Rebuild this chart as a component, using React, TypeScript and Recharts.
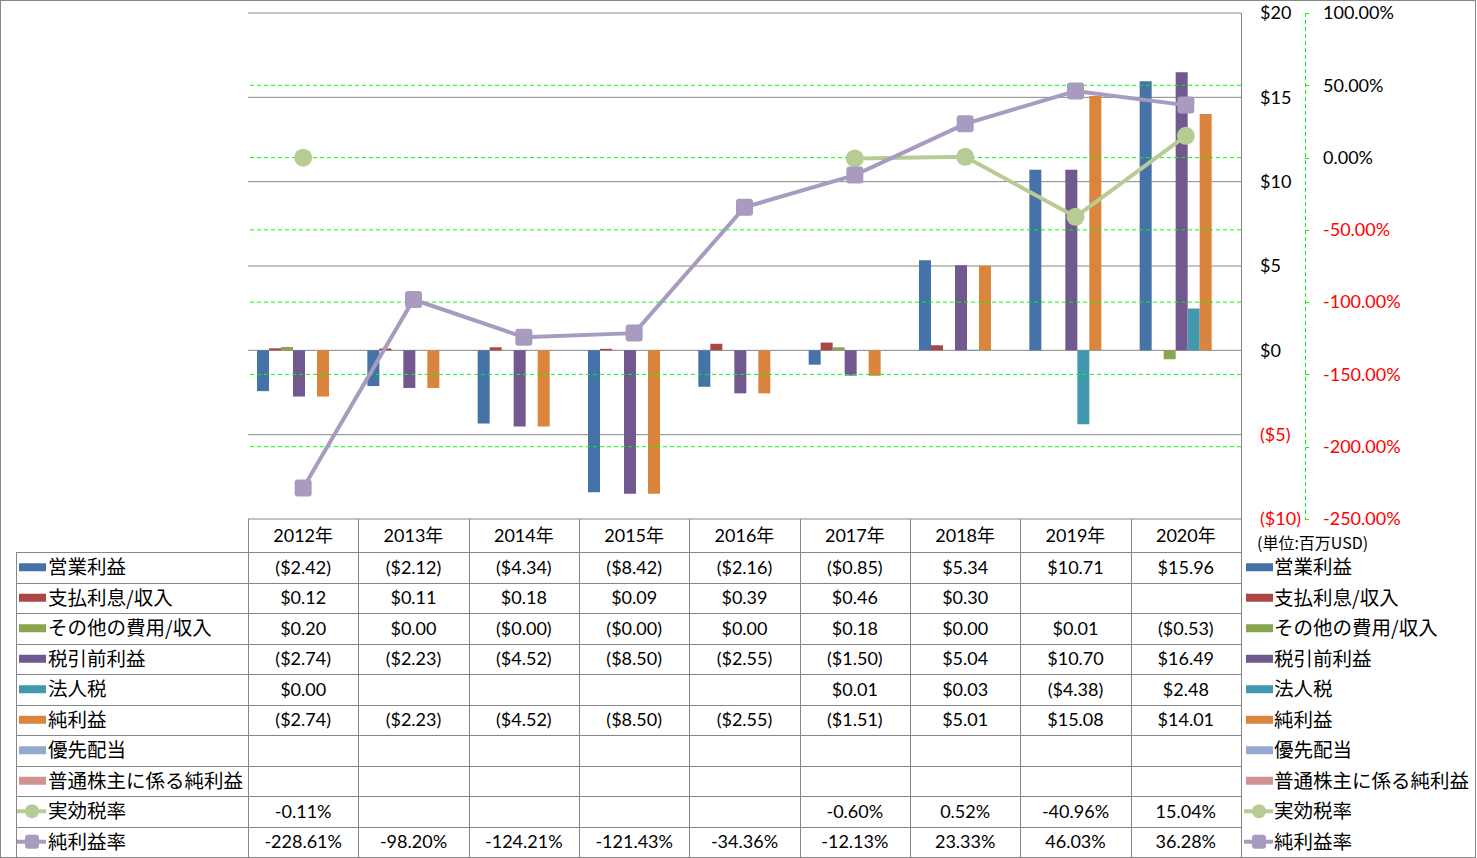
import { ComposedChart, Bar, Line, XAxis, YAxis, CartesianGrid, ReferenceLine } from 'recharts'

// categories and series values (USD in millions, rates in %)
const years = ['2012年', '2013年', '2014年', '2015年', '2016年', '2017年', '2018年', '2019年', '2020年']
const operatingIncome = [-2.42, -2.12, -4.34, -8.42, -2.16, -0.85, 5.34, 10.71, 15.96]
const interest = [0.12, 0.11, 0.18, 0.09, 0.39, 0.46, 0.3, null, null]
const otherExpense = [0.2, 0.0, -0.001, -0.001, 0.0, 0.18, 0.0, 0.01, -0.53]
const pretaxIncome = [-2.74, -2.23, -4.52, -8.5, -2.55, -1.5, 5.04, 10.7, 16.49]
const incomeTax = [0.0, null, null, null, null, 0.01, 0.03, -4.38, 2.48]
const netIncome = [-2.74, -2.23, -4.52, -8.5, -2.55, -1.51, 5.01, 15.08, 14.01]
const preferredDiv = [null, null, null, null, null, null, null, null, null]
const commonNetIncome = [null, null, null, null, null, null, null, null, null]
const effectiveTaxRate = [-0.11, null, null, null, null, -0.6, 0.52, -40.96, 15.04]
const netMargin = [-228.61, -98.2, -124.21, -121.43, -34.36, -12.13, 23.33, 46.03, 36.28]

const usdTicks = [-10, -5, 0, 5, 10, 15, 20]
const pctTicks = [-250, -200, -150, -100, -50, 0, 50, 100]

const barSeries = [
  { key: 'op', name: '営業利益', color: '#4572A7', values: operatingIncome },
  { key: 'int', name: '支払利息/収入', color: '#AA4643', values: interest },
  { key: 'oth', name: 'その他の費用/収入', color: '#89A54E', values: otherExpense },
  { key: 'pre', name: '税引前利益', color: '#71588F', values: pretaxIncome },
  { key: 'tax', name: '法人税', color: '#4198AF', values: incomeTax },
  { key: 'net', name: '純利益', color: '#DB843D', values: netIncome },
  { key: 'pref', name: '優先配当', color: '#93A9CF', values: preferredDiv },
  { key: 'com', name: '普通株主に係る純利益', color: '#D19392', values: commonNetIncome },
]
const lineSeries = [
  { key: 'etr', name: '実効税率', color: '#B7CC94', values: effectiveTaxRate, shape: 'circle' },
  { key: 'nm', name: '純利益率', color: '#A89BBF', values: netMargin, shape: 'square' },
]

const data = years.map((year, i) => {
  const row: Record<string, any> = { year }
  barSeries.forEach((s) => (row[s.key] = s.values[i]))
  lineSeries.forEach((s) => (row[s.key] = s.values[i]))
  return row
})

// layout
const W = 1477
const H = 858
const PLOT_L = 248
const PLOT_R = 1241
const PLOT_T = 13
const PLOT_B = 519
const PCT_AXIS_X = 1305
const TABLE_TOP = 552
const ROW_H = 30.5
const LABEL_L = 16
const COL_W = (PLOT_R - PLOT_L) / years.length
const GRID = '#868686'
const NUM_FONT = "Lato, 'Noto Sans CJK JP', sans-serif"
const JP_FONT = "'Noto Sans CJK JP', sans-serif"

const fmtUsd = (v: number | null) => (v == null ? '' : v < 0 ? `($${Math.abs(v).toFixed(2)})` : `$${v.toFixed(2)}`)
const fmtPct = (v: number | null) => (v == null ? '' : `${v.toFixed(2)}%`)

function UsdTick({ y, payload }: any) {
  const v = payload.value
  return (
    <text x={PLOT_R + 19} y={y} dy="0.35em" textAnchor="start" fontSize={18} fontFamily={NUM_FONT} fill={v < 0 ? '#FF0000' : '#000'}>
      {v < 0 ? `($${-v})` : `$${v}`}
    </text>
  )
}

function PctTick({ y, payload }: any) {
  const v = payload.value
  return (
    <g>
      <line x1={PCT_AXIS_X} x2={PCT_AXIS_X + 4} y1={Math.round(y) + 0.5} y2={Math.round(y) + 0.5} stroke="#00FF00" />
      <text x={PCT_AXIS_X + 18} y={y} dy="0.35em" textAnchor="start" fontSize={18} fontFamily={NUM_FONT} fill={v < 0 ? '#FF0000' : '#000'}>
        {`${v.toFixed(2)}%`}
      </text>
    </g>
  )
}

function CircleDot({ cx, cy, value, index }: any) {
  if (value == null || cx == null || cy == null) return <g key={index} />
  return <circle key={index} cx={cx} cy={cy} r={9} fill="#B7CC94" />
}

function SquareDot({ cx, cy, value, index }: any) {
  if (value == null || cx == null || cy == null) return <g key={index} />
  return <rect key={index} x={cx - 8.5} y={cy - 8.5} width={17} height={17} rx={3} fill="#A89BBF" />
}

function Marker({ x, cy, s }: { x: number; cy: number; s: any }) {
  if (s.shape) {
    return (
      <g>
        <line x1={x - 2} x2={x + 27} y1={cy} y2={cy} stroke={s.color} strokeWidth={4} />
        {s.shape === 'circle' ? (
          <circle cx={x + 13} cy={cy} r={7} fill={s.color} />
        ) : (
          <rect x={x + 6} y={cy - 7} width={14} height={14} rx={3} fill={s.color} />
        )}
      </g>
    )
  }
  return <rect x={x} y={cy - 4} width={27} height={8} fill={s.color} />
}

function DataTable() {
  const rows = [
    ...barSeries.map((s) => ({ s, cells: s.values.map(fmtUsd) })),
    ...lineSeries.map((s) => ({ s, cells: s.values.map(fmtPct) })),
  ]
  const px = (v: number) => Math.round(v) + 0.5
  return (
    <svg width={W} height={H} style={{ position: 'absolute', left: 0, top: 0, pointerEvents: 'none' }}>
      <rect x={0.5} y={0.5} width={W - 2} height={H - 1} fill="none" stroke={GRID} />
      {/* axis lines */}
      <line x1={px(PLOT_R)} x2={px(PLOT_R)} y1={PLOT_T} y2={H - 1} stroke={GRID} />
      <line x1={px(PCT_AXIS_X)} x2={px(PCT_AXIS_X)} y1={PLOT_T} y2={PLOT_B} stroke="#00FF00" strokeDasharray="4 3" />
      {years.map((_, i) => (
        <line key={'v' + i} x1={px(PLOT_L + i * COL_W)} x2={px(PLOT_L + i * COL_W)} y1={PLOT_B} y2={H - 1} stroke={GRID} />
      ))}
      <line x1={px(LABEL_L)} x2={px(LABEL_L)} y1={TABLE_TOP} y2={H - 1} stroke={GRID} />
      {rows.map((_, r) => (
        <line key={'h' + r} x1={LABEL_L} x2={PLOT_R} y1={px(TABLE_TOP + r * ROW_H)} y2={px(TABLE_TOP + r * ROW_H)} stroke={GRID} />
      ))}
      {years.map((y, i) => (
        <text key={'y' + i} x={PLOT_L + (i + 0.5) * COL_W} y={(PLOT_B + TABLE_TOP) / 2} dy="0.35em" textAnchor="middle" fontSize={18} fontFamily={NUM_FONT}>
          {y}
        </text>
      ))}
      <text x={1257} y={543} dy="0.35em" fontSize={16} fontFamily={JP_FONT}>
        (単位:百万USD)
      </text>
      {rows.map(({ s, cells }, r) => {
        const cy = TABLE_TOP + (r + 0.5) * ROW_H
        return (
          <g key={s.key}>
            <Marker x={19} cy={cy} s={s} />
            <text x={48} y={cy} dy="0.35em" fontSize={19.5} fontFamily={JP_FONT}>
              {s.name}
            </text>
            {cells.map((c, i) => (
              <text key={i} x={PLOT_L + (i + 0.5) * COL_W} y={cy} dy="0.35em" textAnchor="middle" fontSize={18} fontFamily={NUM_FONT}>
                {c}
              </text>
            ))}
            <Marker x={1246} cy={cy} s={s} />
            <text x={1274} y={cy} dy="0.35em" fontSize={19.5} fontFamily={JP_FONT}>
              {s.name}
            </text>
          </g>
        )
      })}
    </svg>
  )
}

export default function App() {
  return (
    <div style={{ position: 'absolute', left: 0, top: 0, width: W, height: H, background: '#fff' }}>
      <div style={{ position: 'absolute', left: 0, top: 0 }}>
        <ComposedChart
          width={W}
          height={540}
          data={data}
          margin={{ top: PLOT_T, left: PLOT_L, right: 0, bottom: 540 - PLOT_B }}
          barCategoryGap={9}
          barGap={0}
        >
          <XAxis dataKey="year" hide />
          <YAxis
            yAxisId="usd"
            orientation="right"
            width={PCT_AXIS_X - PLOT_R}
            domain={[-10, 20]}
            ticks={usdTicks}
            axisLine={false}
            tickLine={false}
            tick={<UsdTick />}
            interval={0}
            allowDataOverflow
          />
          <YAxis
            yAxisId="pct"
            orientation="right"
            width={W - PCT_AXIS_X}
            domain={[-250, 100]}
            ticks={pctTicks}
            axisLine={false}
            tickLine={false}
            tick={<PctTick />}
            interval={0}
            allowDataOverflow
          />
          <CartesianGrid yAxisId="usd" vertical={false} stroke={GRID} />
          {pctTicks
            .filter((t) => t > -250 && t < 100)
            .map((t) => (
              <ReferenceLine key={t} yAxisId="pct" y={t} stroke="#00FF00" strokeDasharray="4 3" />
            ))}
          {barSeries.map((s) => (
            <Bar key={s.key} yAxisId="usd" dataKey={s.key} name={s.name} fill={s.color} isAnimationActive={false} />
          ))}
          <Line
            yAxisId="pct"
            dataKey="etr"
            name="実効税率"
            stroke="#B7CC94"
            strokeWidth={4}
            dot={CircleDot}
            activeDot={false}
            connectNulls={false}
            isAnimationActive={false}
          />
          <Line
            yAxisId="pct"
            dataKey="nm"
            name="純利益率"
            stroke="#A89BBF"
            strokeWidth={4}
            dot={SquareDot}
            activeDot={false}
            isAnimationActive={false}
          />
        </ComposedChart>
      </div>
      <DataTable />
    </div>
  )
}
